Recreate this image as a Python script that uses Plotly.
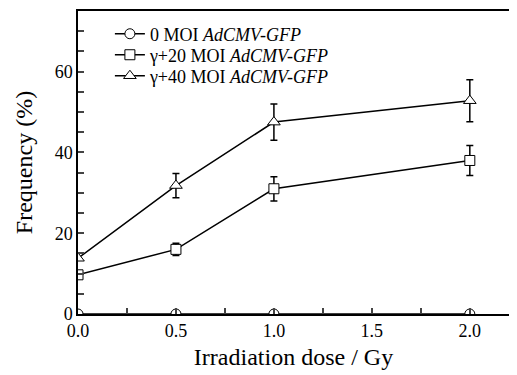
import plotly.graph_objects as go

dose = [0.0, 0.5, 1.0, 2.0]
names = ["0 MOI <i>AdCMV-GFP</i>", "γ+20 MOI <i>AdCMV-GFP</i>", "γ+40 MOI <i>AdCMV-GFP</i>"]
freq_0 = [0.0, 0.0, 0.0, 0.0]
err_0 = [0.0, 0.0, 0.0, 0.0]
freq_20 = [9.7, 16.0, 31.0, 38.0]
err_20 = [0.0, 1.5, 3.0, 3.7]
freq_40 = [13.8, 31.8, 47.5, 52.8]
err_40 = [0.0, 3.0, 4.5, 5.2]
symbols = ["circle", "square", "triangle-up"]
legend_ids = ["legend", "legend2", "legend3"]
legend_top = [0.985, 0.9157, 0.8464]

fig = go.Figure()
for name, y, e, sym, lid in zip(names, [freq_0, freq_20, freq_40], [err_0, err_20, err_40], symbols, legend_ids):
    fig.add_trace(go.Scatter(
        x=dose, y=y, name=name, mode="lines+markers", legend=lid,
        line=dict(color="black", width=1.5),
        marker=dict(symbol=sym, size=11 if sym == "triangle-up" else 10, color="white",
                    line=dict(color="black", width=1)),
        error_y=dict(type="data", array=e, visible=True, color="black", thickness=1.5, width=3.5),
    ))

font = "Liberation Serif, Times New Roman, serif"
layout_legends = {}
for lid, ly in zip(legend_ids, legend_top):
    layout_legends[lid] = dict(x=0.074, y=ly, xanchor="left", yanchor="top",
                               bgcolor="rgba(0,0,0,0)", font=dict(size=18), itemwidth=30)

fig.update_layout(
    width=517, height=375,
    margin=dict(l=70, r=16, t=3, b=69),
    paper_bgcolor="white", plot_bgcolor="white",
    font=dict(family=font, size=18, color="black"),
    showlegend=True,
    xaxis=dict(range=[0, 2.2], tickvals=[0, 0.5, 1.0, 1.5, 2.0], ticktext=["0.0", "0.5", "1.0", "1.5", "2.0"],
               ticks="inside", ticklen=6, tickwidth=1.5, showline=True, linewidth=1.5, linecolor="black",
               mirror=True, showgrid=False, zeroline=False, automargin=False,
               minor=dict(ticks="inside", ticklen=6, tickwidth=1.5, dtick=0.25, tick0=0),
               title=dict(text="Irradiation dose / Gy", font=dict(size=24), standoff=8)),
    yaxis=dict(range=[0, 75], tickvals=[0, 20, 40, 60],
               ticks="inside", ticklen=6, tickwidth=1.5, showline=True, linewidth=1.5, linecolor="black",
               mirror=True, showgrid=False, zeroline=False, automargin=False,
               minor=dict(ticks="inside", ticklen=6, tickwidth=1.5, dtick=5, tick0=0),
               title=dict(text="Frequency (%)", font=dict(size=24), standoff=15)),
    **layout_legends,
)
fig.write_html("out.html")
